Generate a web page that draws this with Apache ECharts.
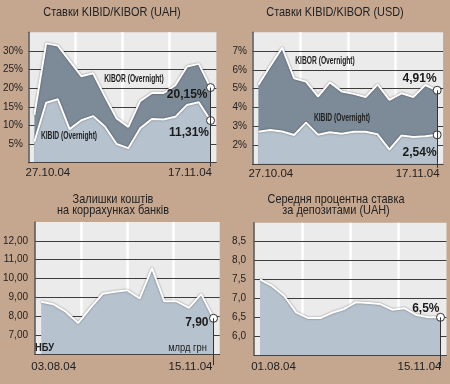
<!DOCTYPE html>
<html><head><meta charset="utf-8">
<script src="https://cdn.jsdelivr.net/npm/echarts@6/dist/echarts.min.js"></script>
<style>html,body{margin:0;padding:0;background:#c5a68f}#c{width:450px;height:384px}</style>
</head><body><div id="c"></div>
<script>
const FONT = "'Liberation Sans',Arial,sans-serif";

// ---- data ----
const rateDates = ['27.10.04','28.10.04','29.10.04','01.11.04','02.11.04','03.11.04','04.11.04','05.11.04','08.11.04','09.11.04','10.11.04','11.11.04','12.11.04','15.11.04','16.11.04','17.11.04'];
const uahKibor = [12.8, 32.0, 31.4, 27.3, 23.2, 24.0, 17.8, 11.9, 9.6, 16.5, 18.7, 18.7, 20.8, 25.8, 26.5, 20.15];
const uahKibid = [5.6, 16.1, 17.0, 9.0, 11.4, 12.5, 9.7, 5.0, 3.9, 9.2, 11.7, 11.6, 12.3, 15.5, 16.2, 11.31];
const usdKibor = [5.2, 6.2, 7.18, 5.55, 5.37, 4.58, 5.33, 4.85, 4.72, 4.55, 5.22, 4.4, 4.75, 4.55, 5.19, 4.91];
const usdKibid = [2.71, 2.8, 2.72, 2.53, 3.19, 2.55, 2.68, 2.6, 2.7, 2.7, 2.57, 1.76, 2.5, 2.43, 2.47, 2.54];
const reserveDates = ['03.08.04','10.08.04','17.08.04','24.08.04','31.08.04','07.09.04','14.09.04','21.09.04','28.09.04','05.10.04','12.10.04','19.10.04','26.10.04','05.11.04','15.11.04'];
const reserveVals = [8.77, 8.64, 8.25, 7.65, 8.45, 9.2, 9.3, 9.38, 8.95, 10.55, 8.8, 8.8, 8.45, 9.18, 7.90];
const depositDates = ['01.08.04','08.08.04','15.08.04','22.08.04','29.08.04','05.09.04','12.09.04','19.09.04','26.09.04','03.10.04','10.10.04','17.10.04','24.10.04','31.10.04','07.11.04','15.11.04'];
const depositVals = [7.5, 7.33, 7.07, 6.63, 6.48, 6.48, 6.62, 6.72, 6.9, 6.88, 6.85, 6.7, 6.74, 6.56, 6.5, 6.5];

const titles = ['Ставки KIBID/KIBOR (UAH)', 'Ставки KIBID/KIBOR (USD)', 'Залишки коштів\nна коррахунках банків', 'Середня процентна ставка\nза депозитами (UAH)'];
const kiborName = 'KIBOR (Overnight)';
const kibidName = 'KIBID (Overnight)';

// ---- styles ----
const DARK = '#7d8a98', LIGHT = '#b6c2ce', PLOT = '#ebebeb', GRIDC = '#3d3d3d', TXT = '#222';

const panels = [
  { grid:{left:25.7, top:32.2, width:190.7, height:130.5}, dates:rateDates, min:0, max:35, interval:5,
    yFmt:v=>v+'%', yMargin:5.5, xMargin:4, padL:27, padR:41, tick:4 },
  { grid:{left:252.4, top:32.2, width:190.7, height:131.6}, dates:rateDates, min:1, max:8, interval:1,
    yFmt:v=>v+'%', yMargin:5.5, xMargin:4.5, padL:25, padR:39, tick:4 },
  { grid:{left:27.9, top:221.9, width:191.8, height:132.3}, dates:reserveDates, min:6, max:13, interval:1,
    yFmt:v=>v.toFixed(2).replace('.',','), yMargin:7, xMargin:6.5, padL:25, padR:46, tick:11 },
  { grid:{left:254, top:222.8, width:192.5, height:132.3}, dates:depositDates, min:5.5, max:9, interval:0.5,
    yFmt:v=>v.toFixed(1).replace('.',','), yMargin:8, xMargin:6, padL:27, padR:42, tick:11 }
];

const grid = [], xAxis = [], yAxis = [], series = [];
panels.forEach((p, i) => {
  grid.push(Object.assign({show:true, backgroundColor:PLOT, borderWidth:0}, p.grid));
  const last = p.dates.length - 1;
  xAxis.push({
    type:'category', gridIndex:i, data:p.dates, boundaryGap:true, z:3,
    axisLine:{show:true, lineStyle:{color:'#444', width:1}},
    axisTick:{show:true, alignWithLabel:true, length:p.tick, interval:(idx)=>idx===last, lineStyle:{color:'#333', width:1}},
    axisLabel:{interval:(idx)=>idx===0||idx===last, margin:p.xMargin, color:TXT, fontFamily:FONT, fontSize:11.5,
      formatter:(v, idx)=> idx===0 ? '{f|'+v+'}' : '{l|'+v+'}',
      rich:{ f:{padding:[0,0,0,p.padL], fontSize:11.5, fontFamily:FONT, color:TXT},
             l:{padding:[0,p.padR,0,0], fontSize:11.5, fontFamily:FONT, color:TXT} }},
    splitLine:{show:false}
  });
});
// decorative vertical bands (quarters of plot)
panels.forEach((p, i) => {
  xAxis.push({
    type:'value', gridIndex:i, min:0, max:4, interval:1, position:'top', z:0,
    axisLine:{show:false}, axisTick:{show:false}, axisLabel:{show:false},
    splitLine:{show:true, showMinLine:false, showMaxLine:false, lineStyle:{color:'#ffffff', width:2.5}}
  });
});
panels.forEach((p, i) => {
  yAxis.push({
    type:'value', gridIndex:i, min:p.min, max:p.max, interval:p.interval, z:3,
    axisLine:{show:true, lineStyle:{color:'#555', width:1.5}},
    axisTick:{show:false},
    axisLabel:{margin:p.yMargin, color:TXT, fontFamily:FONT, fontSize:10,
      formatter:v=> (v > p.min + 1e-6 && v < p.max - 1e-6) ? p.yFmt(v) : ''},
    splitLine:{show:true, showMinLine:false, showMaxLine:false, lineStyle:{color:GRIDC, width:1}}
  });
});

function lineSeries(i, vals, color, lbl, fmt, withMark) {
  const p = panels[i];
  const last = vals.length - 1;
  const s = {
    type:'line', xAxisIndex:i, yAxisIndex:i, symbol:'none', showSymbol:true, silent:true,
    lineStyle:{color:'#fff', width:2, shadowColor:'rgba(0,0,0,0.45)', shadowBlur:2},
    areaStyle:{color:color, opacity:1},
    itemStyle:{color:'#fff', borderColor:'#333', borderWidth:1},
    emphasis:{disabled:true},
    data: vals.map((v, k) => k === last ? {
      value:v, symbol:'circle', symbolSize:8,
      label:{show:true, position:'inside', align:'right', verticalAlign:'middle', offset:lbl,
        formatter:()=>fmt(v), fontFamily:FONT, fontSize:12, fontWeight:'bold', color:'#1a1a1a'}
    } : v)
  };
  if (withMark) {
    s.markLine = {silent:true, symbol:'none', label:{show:false}, animation:false,
      lineStyle:{color:'#333', width:1, type:'solid'},
      data:[[{coord:[p.dates[last], vals[last]]}, {coord:[p.dates[last], p.min]}]]};
  }
  return s;
}
const pct2 = v => v.toFixed(2).replace('.',',') + '%';
series.push(lineSeries(0, uahKibor, DARK, [-3, 7], pct2, true));
series.push(lineSeries(0, uahKibid, LIGHT, [-1.5, 12], pct2, false));
series.push(lineSeries(1, usdKibor, DARK, [-0.5, -12], pct2, true));
series.push(lineSeries(1, usdKibid, LIGHT, [-0.5, 18], pct2, false));
series.push(lineSeries(2, reserveVals, LIGHT, [-5, 4.5], v=>v.toFixed(2).replace('.',','), true));
series.push(lineSeries(3, depositVals, LIGHT, [-1, -9], v=>v.toFixed(1).replace('.',',')+'%', true));

function txt(text, x, y, size, weight, lh, sx) {
  return {type:'text', x:x, y:y, z:100, silent:true, scaleX:sx||1,
    style:{text:text, fill:TXT, fontFamily:FONT, fontSize:size, fontWeight:weight||'normal',
      align:'center', verticalAlign:'middle', lineHeight:lh||size}};
}
const graphic = [
  txt(titles[0], 112, 12.5, 13, 'normal', 13, 0.84),
  txt(titles[1], 335, 12.5, 13, 'normal', 13, 0.84),
  txt(titles[2], 113, 204.7, 13, 'normal', 11.5, 0.84),
  txt(titles[3], 336, 204.7, 13, 'normal', 11.5, 0.84),
  txt(kiborName, 134, 79, 10, 'bold', 10, 0.67),
  txt(kibidName, 69, 136.7, 10, 'bold', 10, 0.67),
  txt(kiborName, 325, 61.7, 10, 'bold', 10, 0.67),
  txt(kibidName, 342, 118.3, 10, 'bold', 10, 0.67),
  txt('НБУ', 44.5, 347.7, 11, 'bold', 11, 0.85),
  txt('млрд грн', 187.5, 347.7, 11, 'normal', 11, 0.85)
];

const chart = echarts.init(document.getElementById('c'));
chart.setOption({
  backgroundColor:'#c5a68f', animation:false,
  grid, xAxis, yAxis, series, graphic
});
</script></body></html>
